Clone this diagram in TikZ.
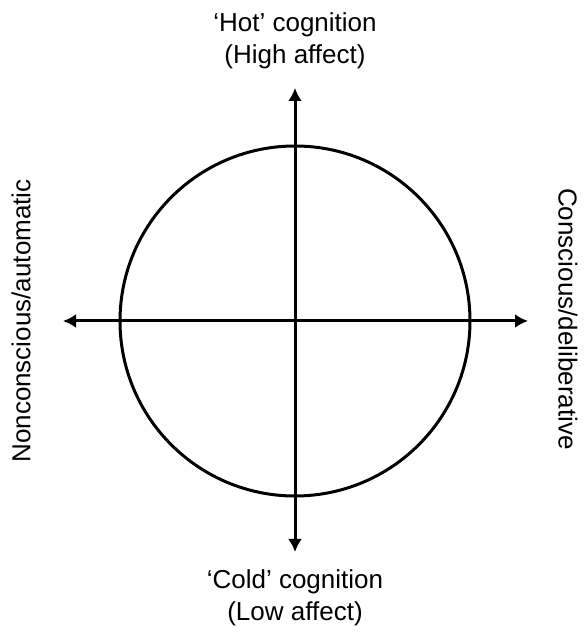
\documentclass[tikz,border=0pt]{standalone}
\usepackage{fontspec}
\setmainfont{Liberation Sans}
\usetikzlibrary{arrows.meta}
\begin{document}
\begin{tikzpicture}[x=1pt,y=1pt,
  lbl/.style={font=\fontsize{26}{32}\selectfont, align=center, inner sep=0pt},
  axis/.style={line width=3pt, -{Latex[length=13pt,width=14pt]}},
  ring/.style={circle, draw, line width=3pt, minimum size=350pt, inner sep=0pt}]
\useasboundingbox (0,0) rectangle (586,632);
\node[ring] (c) at (295,311) {};
\coordinate (L) at (63,311);
\coordinate (R) at (528,311);
\coordinate (T) at (295,544);
\coordinate (B) at (295,80);
\draw[axis] (c.center) -- (L);
\draw[axis] (c.center) -- (R);
\draw[axis] (c.center) -- (T);
\draw[axis] (c.center) -- (B);
\node[lbl] (top) at (295,591.5) {‘Hot’ cognition\\(High affect)};
\node[lbl] (bot) at (295,34.5) {‘Cold’ cognition\\(Low affect)};
\node[lbl, rotate=90] (left) at (21,311) {Nonconscious/automatic};
\node[lbl, rotate=-90] (right) at (568,313) {Conscious/deliberative};
\end{tikzpicture}
\end{document}
